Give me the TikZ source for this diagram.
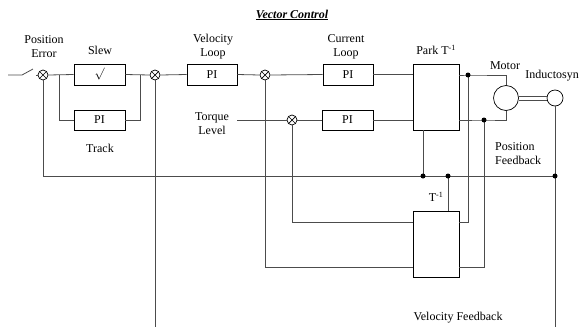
\documentclass[tikz,border=0pt]{standalone}
\usepackage{fontspec}
\setmainfont{Liberation Serif}
\begin{document}
\begin{tikzpicture}[x=1pt,y=-1pt,
  txt/.style={inner sep=0pt,font=\fontsize{12}{14}\selectfont,align=center},
  blk/.style={draw=black,line width=0.7pt,fill=white,inner sep=0pt,font=\fontsize{12}{14}\selectfont},
  sumj/.style={circle,draw=black,line width=0.7pt,minimum size=10pt,inner sep=0pt,
    path picture={\draw[line width=0.7pt] (path picture bounding box.north west) -- (path picture bounding box.south east)
      (path picture bounding box.north east) -- (path picture bounding box.south west);}},
  wire/.style={draw=black!70,line width=0.8pt},
  dotj/.style={circle,fill=black,inner sep=0pt,minimum size=5pt}]
\useasboundingbox (0,0) rectangle (580,327);

% title
\node[txt] (title) at (292,15) {\textbf{\textit{\underline{Vector Control}}}};

% summing junctions
\node[sumj] (s1) at (43,75) {};
\node[sumj] (s2) at (155,75) {};
\node[sumj] (s3) at (265,75) {};
\node[sumj] (s4) at (292,120) {};

% blocks
\node[blk,minimum width=51pt,minimum height=21pt] (slew) at (99.5,74.5) {$\surd$};
\node[blk,minimum width=51pt,minimum height=20pt] (trk) at (99.5,120) {PI};
\node[blk,minimum width=50pt,minimum height=21pt] (vel) at (212,74.5) {PI};
\node[blk,minimum width=50pt,minimum height=21pt] (cur) at (348,74.5) {PI};
\node[blk,minimum width=51pt,minimum height=20pt] (tq) at (347.5,120) {PI};
\node[blk,minimum width=46pt,minimum height=66pt] (park) at (436,97) {};
\node[blk,minimum width=46pt,minimum height=66pt] (tinv) at (436,244) {};
\node[circle,draw=black,line width=0.7pt,minimum size=25pt,inner sep=0pt] (motor) at (506,98) {};
\node[circle,draw=black,line width=0.7pt,minimum size=16pt,inner sep=0pt] (ind) at (555,98) {};

% labels
\node[txt] (lpe) at (44,47) {Position\\Error};
\node[txt] (lslew) at (100,50) {Slew};
\node[txt] (ltrack) at (100,148) {Track};
\node[txt] (lvel) at (213,47) {Velocity\\Loop};
\node[txt] (lcur) at (346,47) {Current\\Loop};
\node[txt] (ltq) at (212,124) {Torque\\Level};
\node[txt] (lpark) at (436,50) {Park T\textsuperscript{-1}};
\node[txt] (lmotor) at (505,66) {Motor};
\node[txt,anchor=east] (lind) at (579,76) {Inductosyn};
\node[txt,anchor=west,align=left] (lpf) at (495,153.5) {Position\\Feedback};
\node[txt] (ltinv) at (436,197) {T\textsuperscript{-1}};
\node[txt] (lvf) at (458,318) {Velocity Feedback};

% coordinates
\coordinate (sw0) at (8,75);
\coordinate (sw1) at (22,75);
\coordinate (sw2) at (33,69);
\coordinate (sw3) at (36,75);
\coordinate (b1) at (59,75);
\coordinate (b2) at (140,75);
\coordinate (tq0) at (237,120);
\coordinate (j1) at (468,75);
\coordinate (j2) at (484,120);
\coordinate (r1) at (468,222);
\coordinate (r2) at (484,267);
\coordinate (pf) at (555,176);
\coordinate (d1) at (423,176);
\coordinate (d2) at (448,176);
\coordinate (vfb) at (555,327);

% wires
\draw[wire] (sw0) -- (sw1) -- (sw2);
\draw[wire] (sw3) -- (s1.west);
\draw[wire] (s1.east) -- (slew.west);
\draw[wire] (b1) |- (trk.west);
\draw[wire] (slew.east) -- (s2.west);
\draw[wire] (trk.east) -| (b2);
\draw[wire] (s2.east) -- (vel.west);
\draw[wire] (vel.east) -- (s3.west);
\draw[wire] (s3.east) -- (cur.west);
\draw[wire] (cur.east) -- (cur.east -| park.west);
\draw[wire] (tq0) -- (s4.west);
\draw[wire] (s4.east) -- (tq.west);
\draw[wire] (tq.east) -- (tq.east -| park.west);
\draw[wire] (park.east |- j1) -- (j1) -| (motor.north);
\draw[wire] (park.east |- j2) -- (j2) -| (motor.south);
\draw[wire] ([yshift=-2pt]motor.east) -- ([yshift=-2pt]ind.west);
\draw[wire] ([yshift=2pt]motor.east) -- ([yshift=2pt]ind.west);
\draw[wire] (ind.south) -- (vfb);
\draw[wire] (s1.south) |- (pf);
\draw[wire] (park.south -| d1) -- (d1);
\draw[wire] (d2) -- (d2 |- tinv.north);
\draw[wire] (j1) -- (r1) -- (r1 -| tinv.east);
\draw[wire] (j2) -- (r2) -- (r2 -| tinv.east);
\draw[wire] (tinv.west |- r1) -| (s4.south);
\draw[wire] (tinv.west |- r2) -| (s3.south);
\draw[wire] (s2.south) -- (s2.south |- vfb);

% junction dots
\node[dotj] (dj1) at (j1) {};
\node[dotj] (dj2) at (j2) {};
\node[dotj] (dpf) at (pf) {};
\node[dotj] (dd1) at (d1) {};
\node[dotj] (dd2) at (d2) {};
\end{tikzpicture}
\end{document}
